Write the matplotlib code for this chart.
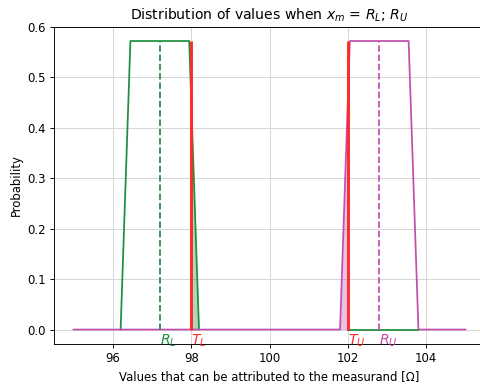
import numpy as np
import matplotlib
matplotlib.use("Agg")
import matplotlib.pyplot as plt

# limits and reference values
T_L, T_U = 98.0, 102.0
R_L, R_U = 97.2, 102.8

# trapezoid vertices for the two distributions
x_low = [96.2, 96.45, 97.95, 98.2]
p_low = [0.0, 0.5714, 0.5714, 0.0]
x_up = [95.0, 101.8, 102.05, 103.55, 103.8, 105.0]
p_up = [0.0, 0.0, 0.5714, 0.5714, 0.0, 0.0]
p_max = 0.5714

green = '#1f8f3e'
magenta = '#c24fae'
red = '#ff2a2a'

DPI = 84
fig = plt.figure(figsize=(480/DPI, 385/DPI), dpi=DPI)
ax = fig.add_axes([0.1125, 0.1065, 0.898, 0.8245])

ax.plot(x_low, p_low, color=green, lw=1.5)
ax.plot(x_up, p_up, color=magenta, lw=1.5)

# tails outside the limits
xs = np.linspace(T_L, x_low[-1], 20)
ax.fill_between(xs, np.interp(xs, x_low, p_low), color=green, alpha=0.35, lw=0)
xs = np.linspace(x_up[1], T_U, 20)
ax.fill_between(xs, np.interp(xs, x_up, p_up), color=magenta, alpha=0.35, lw=0)
xs = np.array([T_U, x_up[4]])
ax.plot(xs, np.interp(xs, x_low, p_low, left=0, right=0), color=green, lw=1.5)

ax.vlines(R_L, 0, p_max, colors=green, linestyles='--', lw=1.5)
ax.vlines(R_U, 0, p_max, colors=magenta, linestyles='--', lw=1.5)
ax.vlines([T_L, T_U], 0, p_max, colors=red, lw=2.5)

ax.text(R_L, -0.007, '$R_L$', color=green, fontsize=12, ha='left', va='top')
ax.text(T_L, -0.007, '$T_L$', color=red, fontsize=12, ha='left', va='top')
ax.text(T_U, -0.007, '$T_U$', color=red, fontsize=12, ha='left', va='top')
ax.text(R_U, -0.007, '$R_U$', color=magenta, fontsize=12, ha='left', va='top')

ax.grid(True, color='#d5d5d5')
ax.set_axisbelow(True)
ax.set_xlim(94.5, 105.5)
ax.set_ylim(-0.0286, 0.6)
ax.set_xticks([96, 98, 100, 102, 104])
ax.set_yticks([0.0, 0.1, 0.2, 0.3, 0.4, 0.5, 0.6])
ax.set_title('Distribution of values when $x_m$ = $R_L$; $R_U$')
ax.set_xlabel('Values that can be attributed to the measurand [Ω]')
ax.set_ylabel('Probability')

plt.savefig('out.png', dpi=DPI)
